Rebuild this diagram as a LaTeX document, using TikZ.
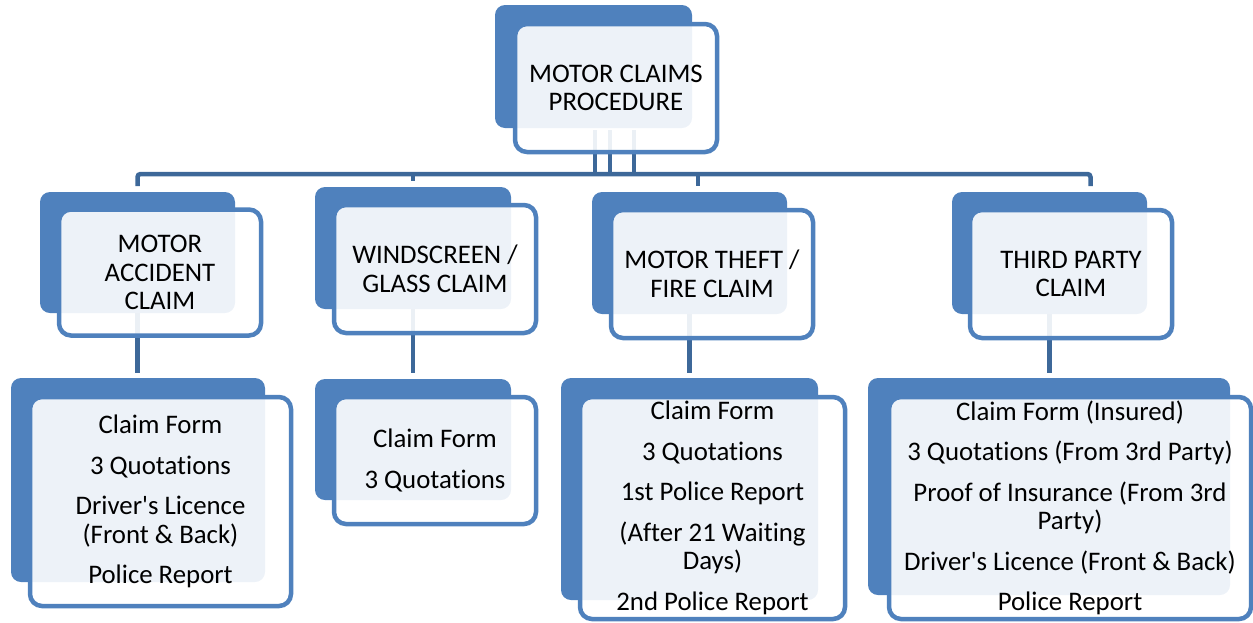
\documentclass[tikz,border=0pt]{standalone}
\usepackage{fontspec}
\setmainfont{Carlito}[Ligatures=CommonOff]
\usetikzlibrary{calc}
\definecolor{accent}{HTML}{4F81BD}
\definecolor{linkblue}{HTML}{3D6899}
\pgfdeclarelayer{background}
\pgfsetlayers{background,main}

\tikzset{
  backbox/.style={fill=accent, rounded corners=10pt, inner sep=0pt, outer sep=0pt},
  frontbox/.style={draw=accent, line width=4.5pt, fill=white, fill opacity=0.9,
    text opacity=1, rounded corners=12pt, inner sep=0pt, outer sep=0pt,
    align=center, font=\fontsize{26.8}{28.5}\selectfont},
  link/.style={draw=linkblue, line width=4.5pt},
}

\begin{document}
\begin{tikzpicture}[x=1pt,y=-1pt]
\useasboundingbox (0,0) rectangle (1253,622);

% root
\node[backbox, minimum width=197pt, minimum height=123pt] (top-b) at (593.5,66.5) {};
\node[frontbox, minimum width=202pt, minimum height=128pt] (top) at (616,88) {MOTOR CLAIMS\\PROCEDURE};

% claim types
\node[backbox, minimum width=195pt, minimum height=121pt] (acc-b) at (137.5,252.5) {};
\node[frontbox, minimum width=202pt, minimum height=126pt] (acc) at (160,272.5) {MOTOR\\ACCIDENT\\CLAIM};

\node[backbox, minimum width=196pt, minimum height=122pt] (win-b) at (413,248) {};
\node[frontbox, minimum width=202pt, minimum height=128pt] (win) at (435,269) {WINDSCREEN /\\GLASS CLAIM};

\node[backbox, minimum width=195pt, minimum height=122pt] (thf-b) at (689.5,253) {};
\node[frontbox, minimum width=202pt, minimum height=128pt] (thf) at (712,274) {MOTOR THEFT /\\FIRE CLAIM};

\node[backbox, minimum width=195pt, minimum height=122pt] (tp-b) at (1049.5,253) {};
\node[frontbox, minimum width=202pt, minimum height=128pt] (tp) at (1071,274) {THIRD PARTY\\CLAIM};

% required documents
\node[backbox, minimum width=254pt, minimum height=204pt] (acc2-b) at (138,480) {};
\node[frontbox, minimum width=261pt, minimum height=209pt] (acc2) at (160.5,501.5)
  {Claim Form\\[12pt]3 Quotations\\[12pt]Driver\textquotesingle s Licence\\(Front \& Back)\\[12pt]Police Report};

\node[backbox, minimum width=196pt, minimum height=121pt] (win2-b) at (413,439.5) {};
\node[frontbox, minimum width=202pt, minimum height=127pt] (win2) at (435,460.5)
  {Claim Form\\[12pt]3 Quotations};

\node[backbox, minimum width=257pt, minimum height=222pt] (thf2-b) at (689.5,489) {};
\node[frontbox, minimum width=265pt, minimum height=222pt] (thf2) at (712.5,508)
  {Claim Form\\[12pt]3 Quotations\\[12pt]1st Police Report\\[12pt](After 21 Waiting\\Days)\\[12pt]2nd Police Report};

\node[backbox, minimum width=362pt, minimum height=217pt] (tp2-b) at (1049,486.5) {};
\node[frontbox, minimum width=362pt, minimum height=222pt] (tp2) at (1070,508)
  {Claim Form (Insured)\\[12pt]3 Quotations (From 3rd Party)\\[12pt]Proof of Insurance (From 3rd\\Party)\\[12pt]Driver\textquotesingle s Licence (Front \& Back)\\[12pt]Police Report};

% connectors, kept under the boxes
\begin{pgfonlayer}{background}
  \coordinate (bus) at (0,174);
  \coordinate (thf-drop) at (698,186);
  \coordinate (tp-drop) at (1090.5,186);
  % root to bus
  \draw[link] ($(top-b.south)+(1.5,2)$) coordinate (p1) -- (p1 |- bus);
  \draw[link] ($(top-b.south)+(16.5,2)$) coordinate (p2) -- (p2 |- bus);
  \draw[link] ($(top-b.south)+(40.5,2)$) coordinate (p3) -- (p3 |- bus);
  % bus with the outer drops
  \draw[link, rounded corners=3pt] ($(acc-b.north)+(0,-6)$) -- (acc-b.north |- bus)
    -- (bus -| tp-drop) -- (tp-drop);
  \draw[link] (win-b.north |- bus) -- ($(win-b.north)+(0,-6)$);
  \draw[link] (thf-drop |- bus) -- (thf-drop);
  % claim types to their documents
  \draw[link, shorten >=5pt] (acc-b.south) -- (acc-b.south |- acc2-b.north);
  \draw[link, shorten >=6pt] (win-b.south) -- (win-b.south |- win2-b.north);
  \draw[link, shorten >=5pt] (thf-b.south) -- (thf-b.south |- thf2-b.north);
  \draw[link, shorten >=5pt] (tp-b.south) -- (tp-b.south |- tp2-b.north);
\end{pgfonlayer}
\end{tikzpicture}
\end{document}
